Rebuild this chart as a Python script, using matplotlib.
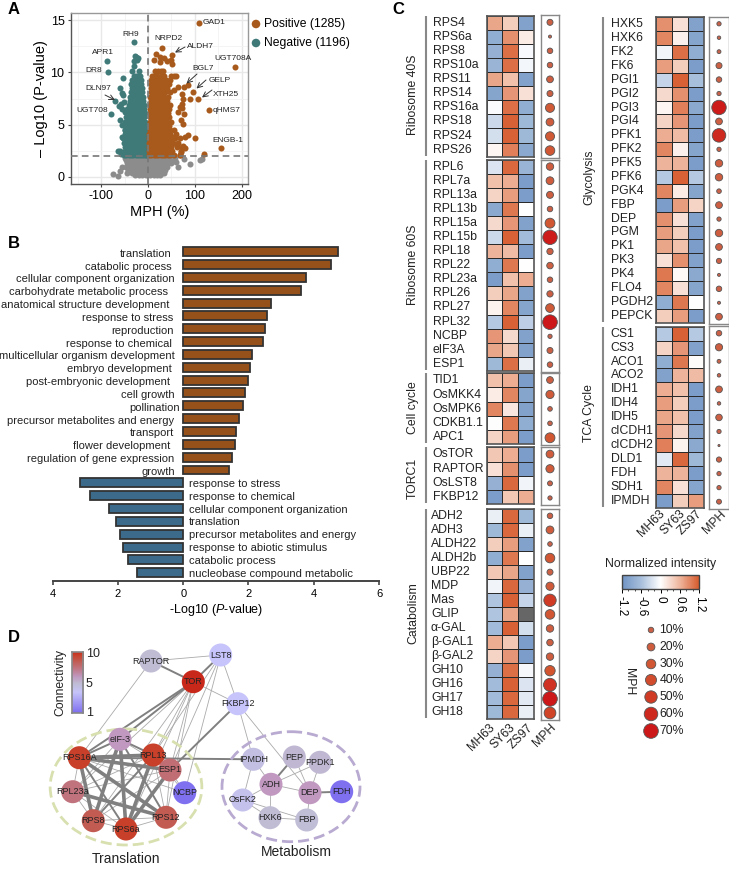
"""Volcano, GO bars, heatmaps with MPH bubbles and a small network, laid out on one page."""
import matplotlib
matplotlib.use("Agg")
import matplotlib.pyplot as plt
import numpy as np
from matplotlib.colors import LinearSegmentedColormap, Normalize
from matplotlib.patches import Ellipse
from matplotlib.cm import ScalarMappable

plt.rcParams["font.family"] = ["Liberation Sans", "DejaVu Sans"]
plt.rcParams["mathtext.fontset"] = "custom"
plt.rcParams["mathtext.it"] = "Liberation Sans:italic"
plt.rcParams["mathtext.rm"] = "Liberation Sans"
plt.rcParams["axes.unicode_minus"] = False

W, H = 729, 869

# --- panel A data
neg_y_rows = [2.1, 2.5, 2.9, 3.3, 3.7, 4.1, 4.5, 4.9, 5.3, 5.7, 6.1, 6.5, 6.9, 7.3, 7.7, 8.1, 8.5, 8.9, 9.3, 9.7]
neg_x_rows = [
    [-52, -47, -41, -37, -31, -26, -22, -17, -12, -8, -4, -2],
    [-50, -44, -39, -33, -29, -24, -19, -15, -10, -6, -3],
    [-48, -43, -38, -34, -27, -23, -18, -13, -9, -5, -2],
    [-52, -46, -40, -36, -30, -25, -21, -16, -11, -7, -3],
    [-53, -47, -42, -37, -32, -27, -22, -17, -12, -8, -4],
    [-50, -45, -40, -35, -30, -25, -20, -15, -10, -6, -3],
    [-48, -43, -38, -33, -28, -24, -19, -14, -9, -5],
    [-47, -42, -36, -31, -27, -22, -17, -12, -8, -4],
    [-50, -44, -39, -34, -29, -25, -20, -15, -11, -6],
    [-46, -41, -36, -31, -26, -21, -16, -12, -8],
    [-42, -37, -33, -28, -24, -19, -14, -10, -7],
    [-45, -40, -35, -30, -25, -20, -16, -11, -8],
    [-41, -36, -32, -27, -22, -17, -13, -9],
    [-39, -34, -29, -25, -20, -15, -11],
    [-38, -33, -28, -23, -18, -13, -10],
    [-37, -32, -27, -22, -17, -12],
    [-35, -30, -26, -21, -16, -12],
    [-36, -31, -25, -20, -15],
    [-33, -28, -23, -18, -14],
    [-30, -25, -20, -16],
]
neg_out_x = [-29, -88, -86, -27, -25, -22, -29, -24, -30, -33, -20, -54, -60, -55, -53, -52, -70, -58, -55, -78, -60, -50, -62, -56, -50, -60, -63, -58, -55, -50]
neg_out_y = [12.95, 11.1, 10.0, 11.6, 11.5, 11.4, 11.1, 11.2, 10.6, 10.1, 10.1, 9.5, 8.5, 8.0, 7.8, 7.2, 7.3, 7.0, 6.5, 6.0, 5.5, 6.2, 6.8, 5.0, 4.5, 2.5, 2.5, 2.2, 3.8, 3.5]

pos_y_rows = [2.1, 2.5, 2.9, 3.3, 3.7, 4.1, 4.5, 4.9, 5.3, 5.7, 6.1, 6.5, 6.9, 7.3, 7.7, 8.1, 8.5, 8.9, 9.3, 9.7, 10.1]
pos_x_rows = [
    [3, 7, 12, 17, 22, 27, 32, 37, 42, 48, 55, 68],
    [2, 6, 10, 15, 20, 25, 30, 35, 40, 46, 52, 70],
    [3, 8, 13, 18, 23, 28, 33, 38, 44, 50, 62, 72],
    [2, 7, 11, 16, 21, 26, 31, 36, 41, 47, 53, 65],
    [3, 6, 12, 17, 22, 27, 32, 38, 45, 52, 58, 68],
    [3, 8, 13, 18, 23, 28, 34, 40, 47, 60],
    [4, 9, 14, 19, 24, 29, 35, 41, 48, 56],
    [4, 8, 13, 18, 23, 28, 33, 38, 44],
    [4, 9, 14, 19, 24, 30, 35, 41, 50],
    [4, 8, 13, 18, 24, 29, 35, 40, 46],
    [5, 10, 15, 20, 25, 30, 36, 42],
    [5, 9, 14, 19, 25, 31, 37, 44],
    [5, 10, 15, 21, 26, 32, 38, 48],
    [6, 11, 16, 21, 27, 33, 40],
    [5, 10, 16, 22, 28, 35, 42],
    [6, 12, 18, 24, 30, 36, 47],
    [6, 11, 17, 23, 29, 35, 40],
    [7, 13, 19, 25, 31, 37, 44],
    [6, 12, 18, 24, 30, 38, 48],
    [8, 14, 20, 27, 35, 50, 55],
    [15, 22, 28, 33],
]
pos_out_x = [108, 30, 17, 52, 12, 25, 35, 40, 50, 52, 25, 186, 60, 85, 78, 65, 55, 97, 72, 75, 90, 107, 72, 68, 73, 130, 65, 77, 70, 75, 100, 85, 80, 155, 120, 75, 80, 70, 68, 60, 55]
pos_out_y = [14.7, 12.3, 11.8, 11.7, 11.2, 11.5, 11.4, 11.1, 11.2, 10.8, 11.0, 10.5, 9.7, 8.8, 8.6, 8.6, 8.3, 8.1, 7.9, 7.5, 7.5, 7.5, 7.0, 6.7, 6.6, 6.4, 6.2, 6.0, 5.5, 5.1, 3.7, 4.0, 3.8, 2.75, 2.2, 3.0, 2.8, 2.4, 2.1, 3.2, 3.8]

ns_y_rows = [1.85, 1.6, 1.3, 1.0, 0.7, 0.4, 0.15]
ns_x_rows = [
    [-48, -42, -35, -28, -20, -12, -5, 3, 10, 18, 25, 33, 40, 48, 57],
    [-46, -39, -31, -24, -16, -8, 0, 7, 15, 22, 30, 38, 46, 54],
    [-44, -36, -28, -20, -12, -4, 5, 12, 20, 28, 36, 42, 50],
    [-46, -38, -30, -22, -14, -6, 2, 10, 18, 25, 33, 40],
    [-42, -35, -27, -19, -11, -3, 6, 14, 22, 29, 37],
    [-45, -33, -25, -17, -9, -1, 8, 16, 24, 30],
    [-28, -20, -12, -4, 4, 12, 20, 26],
]
ns_out_x = [-75, -60, -55, -65, 90, 115, 112, 78, 65, 60, 35]
ns_out_y = [0.3, 0.6, 1.0, 0.1, 1.2, 1.7, 1.6, 1.7, 1.0, 1.4, 0.4]

volcano_labels = ["GAD1", "NRPD2", "ALDH7", "UGT708A", "BGL7", "GELP", "XTH25", "qHMS7", "ENGB-1",
                  "RH9", "APR1", "DR8", "DLN97", "UGT708"]

# --- panel B data
up_terms = ["translation", "catabolic process", "cellular component organization",
            "carbohydrate metabolic process", "anatomical structure development",
            "response to stress", "reproduction", "response to chemical",
            "multicellular organism development", "embryo development",
            "post-embryonic development", "cell growth", "pollination",
            "precursor metabolites and energy", "transport", "flower development",
            "regulation of gene expression", "growth"]
up_values = [4.75, 4.53, 3.75, 3.62, 2.7, 2.57, 2.52, 2.45, 2.1, 2.05, 1.97, 1.88, 1.83, 1.7, 1.63, 1.58, 1.48, 1.4]
down_terms = ["response to stress", "response to chemical", "cellular component organization",
              "translation", "precursor metabolites and energy", "response to abiotic stimulus",
              "catabolic process", "nucleobase compound metabolic"]
down_values = [3.17, 2.85, 2.27, 2.07, 1.95, 1.85, 1.7, 1.42]

# --- panel C data (MH63, SY63, ZS97, then MPH in %)
ribo40_genes = ["RPS4", "RPS6a", "RPS8", "RPS10a", "RPS11", "RPS14", "RPS16a", "RPS18", "RPS24", "RPS26"]
ribo40_vals = [[.7, .4, -1.0], [-.85, .85, .15], [-.8, 1.05, -.05], [-.75, 1.05, -.08], [.7, .5, -1.0],
               [-.95, .8, .25], [-.03, 1.05, -.85], [-.35, 1.15, -.7], [-.3, 1.15, -.7], [.08, .95, -.9]]
ribo40_mph = [12, 3, 10, 10, 15, 12, 27, 20, 27, 30]

ribo60_genes = ["RPL6", "RPL7a", "RPL13a", "RPL13b", "RPL15a", "RPL15b", "RPL18", "RPL22", "RPL23a", "RPL26",
                "RPL27", "RPL32", "NCBP", "eIF3A", "ESP1"]
ribo60_vals = [[-.25, 1.1, -.75], [.5, .65, -1.05], [.35, .75, -1.05], [-.9, 1.0, 0], [.3, .8, -1.0],
               [-.35, 1.15, -.65], [.6, .55, -1.05], [-.85, 1.0, 0], [-1.05, .5, .65], [.4, .7, -1.0],
               [.1, .9, -.95], [-.5, 1.15, -.45], [.8, .3, -1.0], [.7, .45, -1.0], [-.7, 1.05, -.15]]
ribo60_mph = [18, 20, 16, 10, 32, 68, 13, 14, 10, 13, 25, 70, 6, 12, 10]

cycle_genes = ["TID1", "OsMKK4", "OsMPK6", "CDKB1.1", "APC1"]
cycle_vals = [[.5, .65, -1.05], [.15, .9, -.95], [.9, .2, -1.0], [-.01, 1.0, -.85], [.35, .75, -1.05]]
cycle_mph = [15, 22, 7, 7, 32]

torc_genes = ["OsTOR", "RAPTOR", "OsLST8", "FKBP12"]
torc_vals = [[.45, .65, -1.05], [.25, .85, -1.05], [-.8, 1.1, -.1], [-1.05, .45, .65]]
torc_mph = [20, 22, 8, 6]

catab_genes = ["ADH2", "ADH3", "ALDH22", "ALDH2b", "UBP22", "MDP", "Mas", "GLIP", "α-GAL", "β-GAL1", "β-GAL2",
               "GH10", "GH16", "GH17", "GH18"]
catab_vals = [[-.15, 1.1, -.7], [-.7, 1.1, -.15], [.4, .75, -1.0], [-.85, 1.0, 0], [.45, .7, -1.0],
              [-.1, 1.1, -.8], [-.55, 1.15, -.4], [-.55, .7, np.nan], [-.65, 1.15, -.3], [.65, .45, -1.05],
              [.35, .8, -1.05], [-.8, 1.05, -.07], [-.65, 1.15, -.25], [-.65, 1.1, -.2], [-.7, 1.1, -.15]]
catab_mph = [10, 20, 7, 30, 12, 22, 50, 30, 18, 14, 18, 35, 55, 70, 45]

glyco_genes = ["HXK5", "HXK6", "FK2", "FK6", "PGI1", "PGI2", "PGI3", "PGI4", "PFK1", "PFK2", "PFK5", "PFK6",
               "PGK4", "FBP", "DEP", "PGM", "PK1", "PK3", "PK4", "FLO4", "PGDH2", "PEPCK"]
glyco_vals = [[.85, .25, -1.0], [.9, .12, -.95], [-.1, 1.05, -.85], [.75, .4, -1.05], [-.4, 1.15, -.6],
              [.3, .85, -1.05], [.08, .95, -.9], [.35, .8, -1.05], [.65, .55, -1.05], [.9, .12, -.95],
              [.6, .6, -1.05], [-.5, 1.15, -.5], [.9, .15, -.95], [-1.05, .75, .35], [.85, .25, -1.0],
              [.75, .4, -1.05], [.7, .5, -1.05], [.25, .85, -1.0], [1.0, .05, -.9], [.9, .25, -.95],
              [-.85, 1.0, 0], [.4, .75, -1.05]]
glyco_mph = [6, 4, 5, 12, 10, 6, 68, 15, 60, 6, 18, 18, 7, 15, 6, 18, 15, 9, 3, 10, 3, 15]

tca_genes = ["CS1", "CS3", "ACO1", "ACO2", "IDH1", "IDH4", "IDH5", "cICDH1", "cICDH2", "DLD1", "FDH", "SDH1", "IPMDH"]
tca_vals = [[-.5, 1.15, -.5], [.35, .8, -1.0], [-.85, 1.0, .02], [-1.0, .6, .55], [.65, .5, -1.05],
            [.75, .4, -1.05], [.7, .5, -1.05], [.8, .3, -1.0], [.95, .1, -.9], [-.2, 1.1, -.7],
            [.6, .6, -1.05], [.9, .25, -.95], [-1.05, .4, .75]]
tca_mph = [10, 17, 5, 4, 15, 4, 14, 6, 1.5, 9, 6, 6, 8]

mph_levels = [10, 20, 30, 40, 50, 60, 70]

# --- panel D data
node_names = ["RAPTOR", "LST8", "TOR", "FKBP12", "eIF-3", "RPS16A", "RPL13", "ESP1", "RPL23a", "NCBP", "RPS8",
              "RPS6a", "RPS12", "IPMDH", "PEP", "PPDK1", "ADH", "DEP", "FDH", "OsFK2", "HXK6", "FBP"]
node_x = [151, 220.7, 193.3, 237.7, 120, 79.3, 153.3, 170, 72.7, 184.7, 93.3, 126, 166, 253.3, 294.3, 320, 271, 310, 341.7, 242.7, 270, 306.7]
node_y = [661, 655, 681.7, 703.7, 739.3, 757.7, 755, 770, 791.7, 792.7, 820.7, 829, 817.3, 759.3, 757, 762.3, 784.3, 792.7, 791.7, 800, 817.7, 820]
node_conn = [5.3, 4, 10, 4, 6.3, 9.5, 9.5, 7.8, 7.6, 1, 8.5, 9.5, 8.5, 4.8, 5.4, 5.4, 6.3, 6.3, 1, 4.5, 5.3, 5.2]

thick_edges = [("RPS16A", "RPS12"), ("RPS16A", "RPL13"), ("eIF-3", "RPS8"), ("eIF-3", "RPS6a"), ("RPL23a", "RPS12"),
               ("ESP1", "RPS6a"), ("RPL13", "RPS6a"), ("RPS16A", "RPS8"), ("RPS16A", "ESP1")]
mid_edges = [("RAPTOR", "TOR"), ("TOR", "LST8"), ("TOR", "RPS16A"), ("TOR", "eIF-3"), ("eIF-3", "RPS16A"),
             ("eIF-3", "RPL13"), ("eIF-3", "RPS12"), ("RPS16A", "IPMDH"), ("FKBP12", "ESP1"), ("ADH", "PEP"),
             ("DEP", "FDH"), ("RPS16A", "RPS6a"), ("RPL13", "RPS8")]
thin_edges = [("RAPTOR", "LST8"), ("RAPTOR", "RPS16A"), ("TOR", "FKBP12"), ("LST8", "FKBP12"), ("LST8", "RPL13"),
              ("LST8", "NCBP"), ("LST8", "ESP1"), ("FKBP12", "IPMDH"), ("FKBP12", "DEP"), ("TOR", "RPS12"),
              ("TOR", "RPS6a"), ("TOR", "RPS8"), ("TOR", "RPL23a"), ("TOR", "RPL13"), ("TOR", "ESP1"),
              ("IPMDH", "ADH"), ("IPMDH", "OsFK2"), ("ADH", "DEP"), ("ADH", "OsFK2"), ("ADH", "HXK6"),
              ("ADH", "PPDK1"), ("DEP", "PEP"), ("DEP", "PPDK1"), ("DEP", "FBP"), ("OsFK2", "HXK6"),
              ("OsFK2", "FBP"), ("HXK6", "FBP"), ("RPS16A", "RPL23a"), ("RPL23a", "RPS8"), ("RPL23a", "RPS6a"),
              ("RPL23a", "ESP1"), ("RPL23a", "RPL13"), ("RPS8", "RPS6a"), ("RPS8", "RPS12"), ("RPS6a", "RPS12"),
              ("RPS8", "ESP1"), ("RPS12", "ESP1"), ("RPS12", "RPL13"), ("eIF-3", "ESP1"), ("eIF-3", "RPL23a"),
              ("RPS16A", "NCBP"), ("RPL13", "NCBP"), ("ESP1", "NCBP")]


def px_axes(fig, left, top, right, bottom, **kw):
    """Axes placed by pixel edges measured from the top left."""
    return fig.add_axes([left / W, 1 - bottom / H, (right - left) / W, (bottom - top) / H], **kw)


def flatten_rows(x_rows, y_rows, out_x, out_y):
    xs, ys = list(out_x), list(out_y)
    for row, y in zip(x_rows, y_rows):
        xs.extend(row)
        ys.extend([y] * len(row))
    return xs, ys


fig = plt.figure(figsize=(W / 100, H / 100), dpi=100, facecolor="white")

# overlay in pixel coordinates for free text, arrows and the network
ov = fig.add_axes([0, 0, 1, 1], zorder=10)
ov.set_xlim(0, W)
ov.set_ylim(H, 0)
ov.axis("off")
ov.patch.set_alpha(0)

for letter, x, y in [("A", 14, 9), ("B", 14, 244), ("C", 398, 9), ("D", 14, 637)]:
    ov.text(x, y, letter, fontsize=12, fontweight="bold", ha="center", va="center")

# --- A: volcano
ax = px_axes(fig, 70.7, 13.3, 248, 184)
x, y = flatten_rows(ns_x_rows, ns_y_rows, ns_out_x, ns_out_y)
ax.scatter(x, y, s=19, color="#8c8c8c", linewidths=0, zorder=2)
x, y = flatten_rows(neg_x_rows, neg_y_rows, neg_out_x, neg_out_y)
ax.scatter(x, y, s=19, color="#3f7a78", linewidths=0, zorder=3)
x, y = flatten_rows(pos_x_rows, pos_y_rows, pos_out_x, pos_out_y)
ax.scatter(x, y, s=19, color="#a85a1c", linewidths=0, zorder=3)
ax.axvline(0, color="#777777", ls=(0, (4, 2.5)), lw=1.2, zorder=4)
ax.axhline(2, color="#777777", ls=(0, (4, 2.5)), lw=1.2, zorder=4)
ax.set_xlim(-165, 213.7)
ax.set_ylim(-0.67, 15.66)
ax.set_xticks([-100, 0, 100, 200])
ax.set_yticks([0, 5, 10, 15])
ax.set_xticks([-150, -50, 50, 150], minor=True)
ax.set_yticks([2.5, 7.5, 12.5], minor=True)
ax.grid(which="major", color="#e8e8e8", lw=1)
ax.grid(which="minor", color="#f2f2f2", lw=0.6)
ax.set_axisbelow(True)
ax.tick_params(which="minor", length=0)
ax.tick_params(labelsize=9, length=2.5, width=0.8, color="#444444", pad=2)
for side in ["top", "right"]:
    ax.spines[side].set_color("#999999")
for side in ["left", "bottom"]:
    ax.spines[side].set_color("#555555")
for s in ax.spines.values():
    s.set_linewidth(1.0)
ax.set_xlabel("MPH (%)", fontsize=10.5, labelpad=2)
ax.set_ylabel("– Log10 (P-value)", fontsize=10.5, labelpad=2)

label_pos = [(203, 22, "left"), (168, 38, "center"), (186.7, 46, "left"), (233.5, 58, "center"), (203, 69, "center"),
             (220, 81, "center"), (226, 94, "center"), (227, 110, "center"), (228, 140, "center"), (131, 34, "center"),
             (103, 52, "center"), (94, 71, "center"), (98, 88, "center"), (92, 110.7, "center")]
for name, (lx, ly, ha) in zip(volcano_labels, label_pos):
    ov.text(lx, ly, name, fontsize=6, ha=ha, va="center", color="#222222")
for (x0, y0, x1, y1) in [(185, 47, 175, 52.5), (197, 74, 186.5, 83.5), (206, 80, 196.5, 88.5),
                         (212, 90, 202, 97.5), (105, 95, 115, 100)]:
    ov.annotate("", xy=(x1, y1), xytext=(x0, y0),
                arrowprops=dict(arrowstyle="->", color="#333333", lw=0.7, mutation_scale=9, shrinkA=0, shrinkB=0))

ov.scatter([256, 256], [24, 43], s=38, color=["#a85a1c", "#3f7a78"], linewidths=0)
ov.text(264, 24, "Positive (1285)", fontsize=8.7, va="center")
ov.text(264, 43, "Negative (1196)", fontsize=8.7, va="center")

# --- B: GO bars
ax = px_axes(fig, 52.7, 240, 379, 580.7)
up_pos = np.arange(len(up_values))
down_pos = np.arange(len(down_values)) + len(up_values)
ax.barh(up_pos, up_values, height=0.7, color="#96511a", edgecolor="#333333", lw=1.3)
ax.barh(down_pos, -np.array(down_values), height=0.7, color="#3b6a8a", edgecolor="#333333", lw=1.3)
ax.set_xlim(-4, 6)
ax.set_ylim(25.62, -0.91)
ax.set_yticks([])
ax.set_xticks([-4, -2, 0, 2, 4, 6])
ax.set_xticklabels(["4", "2", "0", "2", "4", "6"], fontsize=8)
ax.tick_params(length=3, width=1.2, color="#444444", pad=3)
for side in ["top", "left", "right"]:
    ax.spines[side].set_visible(False)
ax.spines["bottom"].set_linewidth(1.4)
ax.spines["bottom"].set_color("#444444")
ax.set_xlabel(r"-Log10 ($\mathit{P}$-value)", fontsize=9, labelpad=2)
# the term labels sit unevenly in the source, so each one gets its own nudge
up_nudge = [-3, -3, 0, -7, -5, -1, -1, -3, 0, -3, -5, 0, 5, -1, -1, -4, 0, 0]
for i, (term, dx) in enumerate(zip(up_terms, up_nudge)):
    ax.annotate(term, xy=(0, i), xytext=(-8.5 + dx, -2), textcoords="offset pixels", fontsize=8,
                ha="right", va="center", color="#222222", annotation_clip=False)
for i, term in zip(down_pos, down_terms):
    ax.annotate(term, xy=(0, i), xytext=(6, -1), textcoords="offset pixels", fontsize=8,
                ha="left", va="center", color="#222222", annotation_clip=False)

# --- C: heatmap blocks
heat_cmap = LinearSegmentedColormap.from_list("heat", ["#6f93c3", "#a8bfdc", "#ffffff", "#eeb59c", "#d65a2c"])
heat_cmap.set_bad("#666666")
heat_norm = Normalize(-1.2, 1.2)
bubble_cmap = LinearSegmentedColormap.from_list("bubble", ["#c9654f", "#d2552f", "#cc1818"])
bubble_norm = Normalize(0, 70)


def mph_size(values):
    # legend bubbles run from about 5.5 px at 10% to 14.5 px at 70%, area tracks the value
    d_px = 1.75 * np.sqrt(np.asarray(values, dtype=float))
    return (d_px * 0.72) ** 2


def heat_block(genes, vals, mph, title, title_y, top, bottom, heat_l, heat_r, bub_l, bub_r, text_x, line_x, title_x):
    data = np.ma.masked_invalid(np.array(vals, dtype=float))
    ax = px_axes(fig, heat_l, top, heat_r, bottom)
    ax.pcolormesh(data, cmap=heat_cmap, norm=heat_norm, edgecolors="#2a2a2a", linewidth=0.6)
    ax.set_ylim(len(genes), 0)
    ax.set_xticks([])
    ax.set_yticks([])
    for s in ax.spines.values():
        s.set_color("#555555")
        s.set_linewidth(1.2)
    row_h = (bottom - top) / len(genes)
    for i, gene in enumerate(genes):
        ov.text(text_x, top + (i + 0.5) * row_h, gene, fontsize=8.8, va="center", color="#222222")
    ov.plot([line_x, line_x], [top, bottom - 1], color="#888888", lw=1.5, solid_capstyle="butt")
    ov.text(title_x, title_y, title, fontsize=8.8, rotation=90, ha="center", va="center", color="#222222")

    ax = px_axes(fig, bub_l, top - 0.5, bub_r, bottom + 1)
    rows = np.arange(len(genes)) + 0.5
    ax.scatter(np.zeros(len(genes)), rows, s=mph_size(mph), c=mph, cmap=bubble_cmap, norm=bubble_norm,
               edgecolors="#555555", linewidths=0.6, clip_on=False, zorder=3)
    ax.set_xlim(-1, 1)
    ax.set_ylim(len(genes), 0)
    ax.set_xticks([])
    ax.set_yticks([])
    for s in ax.spines.values():
        s.set_color("#888888")
        s.set_linewidth(1.0)


left_col = (486.7, 534, 540.7, 559.3)
heat_block(ribo40_genes, ribo40_vals, ribo40_mph, "Ribosome 40S", 95, 15.7, 156.7, *left_col, 432.7, 426, 413)
heat_block(ribo60_genes, ribo60_vals, ribo60_mph, "Ribosome 60S", 265, 160, 370.7, *left_col, 432.7, 426, 413)
heat_block(cycle_genes, cycle_vals, cycle_mph, "Cell cycle", 408, 373.3, 444, *left_col, 432.7, 426, 413)
heat_block(torc_genes, torc_vals, torc_mph, "TORC1", 478, 447.3, 504.3, *left_col, 432.7, 426, 413)
heat_block(catab_genes, catab_vals, catab_mph, "Catabolism", 612.7, 509.3, 719, *left_col, 431, 426, 413)
right_col = (656, 703.7, 709.3, 728.7)
heat_block(glyco_genes, glyco_vals, glyco_mph, "Glycolysis", 177, 17.3, 322.7, *right_col, 610.7, 603, 589)
heat_block(tca_genes, tca_vals, tca_mph, "TCA Cycle", 412.7, 326.7, 507.7, *right_col, 610.7, 603, 589)

for cols, y_top in [((489, 509, 527, 550), 721.7), ((659, 679, 696, 719.5), 508)]:
    for name, cx in zip(["MH63", "SY63", "ZS97", "MPH"], cols):
        ov.text(cx, y_top, name, fontsize=8.8, rotation=45, ha="right", va="top",
                rotation_mode="anchor", color="#222222")

# colourbar for intensity
cax = px_axes(fig, 621.7, 575.3, 699.3, 588.7)
cb = fig.colorbar(ScalarMappable(norm=heat_norm, cmap=heat_cmap), cax=cax, orientation="horizontal")
cb.set_ticks([-1.2, -0.6, 0, 0.6, 1.2])
cb.set_ticklabels(["-1.2", "-0.6", "0", "0.6", "1.2"])
cb.ax.tick_params(labelsize=8.5, length=3, width=0.7, rotation=270, pad=2)
cb.ax.set_xticks([-1.0, -0.8, -0.4, -0.2, 0.2, 0.4, 0.8, 1.0], minor=True)
cb.ax.tick_params(which="minor", length=1.5, width=0.5)
cb.outline.set_edgecolor("#444444")
cb.outline.set_linewidth(1.0)
ov.text(660.5, 564, "Normalized intensity", fontsize=8.8, ha="center", va="center", color="#222222")

# size legend
legend_y = [630, 647, 664, 680, 697, 714, 731]
ov.scatter([651] * 7, legend_y, s=mph_size(mph_levels), c=mph_levels, cmap=bubble_cmap, norm=bubble_norm,
           edgecolors="#555555", linewidths=0.6)
for lvl, ly in zip(mph_levels, legend_y):
    ov.text(659.5, ly, f"{lvl}%", fontsize=8.8, va="center", color="#222222")
ov.text(629, 682, "MPH", fontsize=8.8, rotation=270, ha="center", va="center", color="#222222")

# --- D: network
node_xy = dict(zip(node_names, zip(node_x, node_y)))
conn_cmap = LinearSegmentedColormap.from_list("conn", [
    (0.0, "#7f70f0"), (0.333, "#c6c4fa"), (0.478, "#c0bcd4"), (0.589, "#c098c0"),
    (0.744, "#c07078"), (0.844, "#c25a50"), (0.944, "#c8402a"), (1.0, "#c8281a")])
for edges, lw in [(thin_edges, 0.6), (mid_edges, 1.4), (thick_edges, 2.6)]:
    for a, b in edges:
        ov.plot([node_xy[a][0], node_xy[b][0]], [node_xy[a][1], node_xy[b][1]],
                color="#808080" if lw > 1 else "#aaaaaa", lw=lw, zorder=1)
ov.add_patch(Ellipse((126, 787), 151.7, 116, fill=False, ec="#d8e0b0", lw=2, ls=(0, (4, 1.8)), zorder=1.5))
ov.add_patch(Ellipse((291, 786.7), 138, 110, fill=False, ec="#b8aad0", lw=2, ls=(0, (4, 1.8)), zorder=1.5))
ov.scatter(node_x, node_y, s=275, c=node_conn, cmap=conn_cmap, norm=Normalize(1, 10), linewidths=0, zorder=2)
for name, nx, ny in zip(node_names, node_x, node_y):
    ov.text(nx, ny, name, fontsize=6.5, ha="center", va="center", color="#222222", zorder=3)
ov.text(126, 859.3, "Translation", fontsize=10, ha="center", va="center", color="#222222")
ov.text(296.7, 852.3, "Metabolism", fontsize=10, ha="center", va="center", color="#222222")

cax = px_axes(fig, 71.7, 651.7, 83, 713)
cax.imshow(np.linspace(1, 0, 100).reshape(-1, 1), cmap=conn_cmap, aspect="auto", vmin=0, vmax=1)
cax.set_xticks([])
cax.set_yticks([])
for s in cax.spines.values():
    s.set_color("#888888")
    s.set_linewidth(1.2)
for tick, ty in [("10", 654), ("5", 684), ("1", 713)]:
    ov.text(86, ty, tick, fontsize=9, va="center", color="#222222")
ov.text(60, 682, "Connectivity", fontsize=8.8, rotation=90, ha="center", va="center", color="#222222")

fig.savefig("out.png", dpi=100)
